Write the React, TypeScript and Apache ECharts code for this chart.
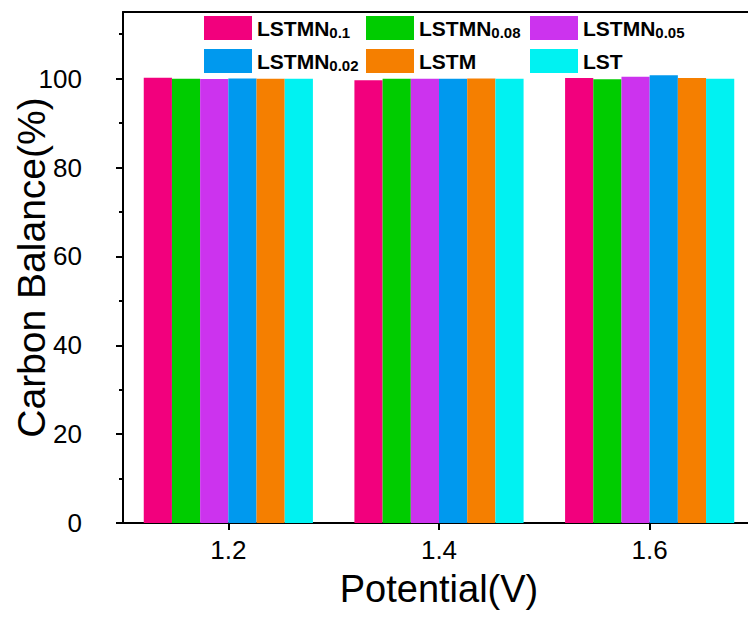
import React, { useEffect, useRef } from "react";
import * as echarts from "echarts";

const categories = ["1.2", "1.4", "1.6"];
const seriesNames = ["LSTMN0.1", "LSTMN0.08", "LSTMN0.05", "LSTMN0.02", "LSTM", "LST"];
const LSTMN01 = [100.2, 99.65, 100.15];
const LSTMN008 = [100.0, 100.0, 99.85];
const LSTMN005 = [99.9, 99.95, 100.4];
const LSTMN002 = [100.05, 99.95, 100.75];
const LSTM = [100.0, 100.05, 100.15];
const LST = [100.0, 100.0, 100.0];
const seriesValues = [LSTMN01, LSTMN008, LSTMN005, LSTMN002, LSTM, LST];
const colors = ["#F2007D", "#00CC00", "#CC33EE", "#0099EE", "#F57F00", "#00F2F2"];
const majorTicks = [0, 20, 40, 60, 80, 100];
const minorTicks = [10, 30, 50, 70, 90, 110];

const FONT = 'Arial, "Liberation Sans", sans-serif';

const legendPos = [
  [204, 16],
  [366, 16],
  [530, 16],
  [204, 49],
  [366, 49],
  [530, 49],
];

function legendLabel(name: string): string {
  const m = name.match(/^(LSTMN)(.+)$/);
  if (m) return `{b|${m[1]}}{s|${m[2]}}`;
  return `{b|${name}}`;
}

export default function App() {
  const ref = useRef<HTMLDivElement>(null);
  useEffect(() => {
    if (!ref.current) return;
    const chart = echarts.init(ref.current, undefined, { renderer: "svg" });
    const legends = seriesNames.map((n, i) => ({
      data: [n],
      left: legendPos[i][0],
      top: legendPos[i][1],
      padding: 0,
      itemGap: 0,
      itemWidth: 48,
      itemHeight: 24,
      icon: "rect",
      selectedMode: false,
      formatter: legendLabel,
      textStyle: {
        color: "#000",
        fontFamily: FONT,
        rich: {
          b: { fontSize: 21, fontWeight: "bold", fontFamily: FONT, color: "#000", lineHeight: 24 },
          s: {
            fontSize: 15,
            fontWeight: "bold",
            fontFamily: FONT,
            color: "#000",
            lineHeight: 6,
            verticalAlign: "bottom",
          },
        },
      },
    }));
    chart.setOption({
      animation: false,
      backgroundColor: "#fff",
      color: colors,
      legend: legends,
      grid: {
        left: 123,
        top: 12,
        bottom: 108,
        right: -7,
        outerBoundsMode: "none",
        containLabel: false,
        show: false,
      },
      graphic: [
        {
          type: "rect",
          right: 0,
          top: 14,
          z: 100,
          shape: { width: 11, height: 506 },
          style: { fill: "#fff" },
        },
      ],
      xAxis: [
        {
          type: "category",
          data: categories,
          position: "bottom",
          name: "Potential(V)",
          nameLocation: "middle",
          nameGap: 47,
          nameMoveOverlap: false,
          nameTextStyle: { fontSize: 38, fontFamily: FONT, color: "#000" },
          axisLine: { show: true, onZero: false, lineStyle: { color: "#000", width: 2 } },
          axisTick: { show: true, alignWithLabel: true, length: 7, lineStyle: { color: "#000", width: 2 } },
          axisLabel: { fontSize: 26, fontFamily: FONT, color: "#000", margin: 14 },
          splitLine: { show: false },
        },
        {
          type: "category",
          data: categories,
          position: "top",
          axisLine: { show: true, onZero: false, lineStyle: { color: "#000", width: 2 } },
          axisTick: { show: false },
          axisLabel: { show: false },
          splitLine: { show: false },
        },
      ],
      yAxis: [
        {
          type: "value",
          min: 0,
          max: 115,
          interval: 20,
          position: "left",
          name: "Carbon Balance(%)",
          nameLocation: "middle",
          nameGap: 72,
          nameMoveOverlap: false,
          nameTextStyle: { fontSize: 39, fontFamily: FONT, color: "#000" },
          axisLine: { show: true, onZero: false, lineStyle: { color: "#000", width: 2 } },
          axisTick: {
            show: true,
            length: 7,
            customValues: majorTicks,
            lineStyle: { color: "#000", width: 2 },
          },
          axisLabel: {
            fontSize: 26,
            fontFamily: FONT,
            color: "#000",
            margin: 41,
            showMaxLabel: false,
            formatter: (v: number) => (majorTicks.indexOf(v) >= 0 ? String(v) : ""),
          },
          splitLine: { show: false },
        },
        {
          type: "value",
          min: 0,
          max: 115,
          interval: 10,
          position: "left",
          offset: 0,
          axisLine: { show: false, onZero: false },
          axisTick: {
            show: true,
            length: 4,
            customValues: minorTicks,
            lineStyle: { color: "#000", width: 2 },
          },
          axisLabel: { show: false },
          splitLine: { show: false },
        },
      ],
      series: seriesNames.map((n, i) => ({
        name: n,
        type: "bar",
        data: seriesValues[i],
        barGap: "0%",
        barCategoryGap: "19.7%",
        itemStyle: { color: colors[i] },
      })),
    });
    return () => chart.dispose();
  }, []);
  return (
    <div
      ref={ref}
      style={{ position: "fixed", left: 0, top: 0, width: 748, height: 631, overflow: "hidden" }}
    />
  );
}
